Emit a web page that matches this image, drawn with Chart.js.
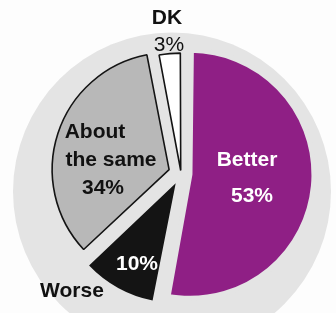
<!DOCTYPE html>
<html>
<head>
<meta charset="utf-8">
<script src="https://cdn.jsdelivr.net/npm/chart.js@4/dist/chart.umd.min.js"></script>
<style>
  html, body { margin: 0; padding: 0; background: #fdfdfd; }
  #wrap { width: 336px; height: 313px; }
</style>
</head>
<body>
<div id="wrap"><canvas id="chart"></canvas></div>
<script>
const categories = ["Better", "Worse", "About the same", "DK"];
const shares = [53, 10, 34, 3];
const shareLabels = ["53%", "10%", "34%", "3%"];

const sliceColors = ["#8f1f85", "#141414", "#b8b8b8", "#ffffff"];
const discColor = "#e4e4e4";

// text placement, relative to the pie centre
const textSpots = [
  { text: "Better", dx: 66, dy: -13, color: "#fff", bold: true },
  { text: shareLabels[0], dx: 71, dy: 23, color: "#fff", bold: true },
  { text: shareLabels[1], dx: -44, dy: 91, color: "#fff", bold: true },
  { text: "Worse", dx: -109, dy: 118, color: "#111", bold: true },
  { text: "About", dx: -86, dy: -41, color: "#111", bold: true },
  { text: "the same", dx: -70, dy: -13, color: "#111", bold: true },
  { text: shareLabels[2], dx: -78, dy: 15, color: "#111", bold: true },
  { text: "DK", dx: -14, dy: -155, color: "#111", bold: true },
  { text: shareLabels[3], dx: -12, dy: -128, color: "#111", bold: false },
];

const backdrop = {
  id: "backdrop",
  beforeDatasetsDraw(chart) {
    const arc = chart.getDatasetMeta(0).data[0];
    const c = chart.ctx;
    c.save();
    c.fillStyle = discColor;
    c.beginPath();
    c.arc(arc.x - 9, arc.y + 18, 159, 0, Math.PI * 2);
    c.fill();
    c.restore();
  },
};

const sliceText = {
  id: "sliceText",
  afterDatasetsDraw(chart) {
    const arc = chart.getDatasetMeta(0).data[0];
    const c = chart.ctx;
    c.save();
    c.textAlign = "center";
    c.textBaseline = "middle";
    textSpots.forEach((t) => {
      c.font = (t.bold ? "bold " : "") + "21px 'Liberation Sans', Arial, sans-serif";
      c.fillStyle = t.color;
      c.fillText(t.text, arc.x + t.dx, arc.y + t.dy);
    });
    c.restore();
  },
};

new Chart(document.getElementById("chart"), {
  type: "pie",
  data: {
    labels: categories,
    datasets: [
      {
        data: shares,
        backgroundColor: sliceColors,
        borderColor: [discColor, "#141414", "#141414", "#141414"],
        borderWidth: [5, 0, 1.6, 1.6],
        offset: [36, 44, 50, 12],
        clip: false,
      },
    ],
  },
  options: {
    responsive: true,
    maintainAspectRatio: false,
    animation: false,
    events: [],
    radius: 115,
    layout: { padding: { left: 26, top: 34, right: 0, bottom: 0 } },
    plugins: {
      legend: { display: false },
      tooltip: { enabled: false },
    },
  },
  plugins: [backdrop, sliceText],
});
</script>
</body>
</html>
